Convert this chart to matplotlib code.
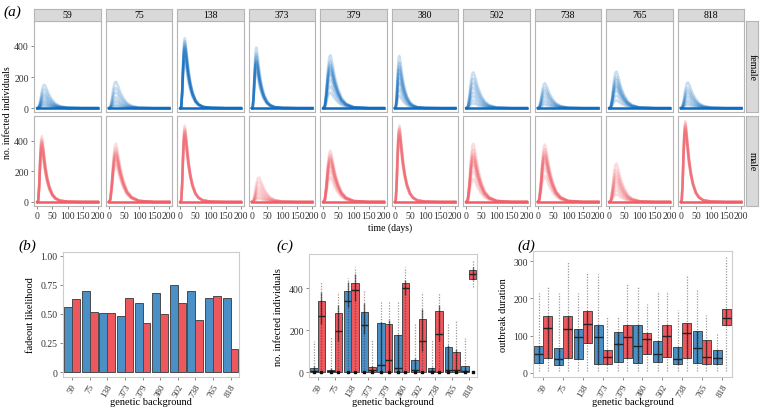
import numpy as np
import matplotlib
matplotlib.use('Agg')
import matplotlib.pyplot as plt

plt.rcParams['font.family'] = ['Liberation Serif', 'DejaVu Serif']
plt.rcParams['font.size'] = 7

W, H = 761, 410

backgrounds = ['59', '75', '138', '373', '379', '380', '502', '738', '765', '818']

# shapes of the epidemic curves (fraction of the peak)
fast_t = [0, 3, 6, 9, 12, 15, 18, 22, 27, 33, 40, 50, 60, 75, 100, 150, 200]
fast_f = [0, 0.02, 0.25, 0.65, 0.93, 1.0, 0.92, 0.75, 0.55, 0.38, 0.24, 0.12, 0.06, 0.02, 0.005, 0, 0]
slow_t = [0, 5, 10, 15, 20, 24, 30, 38, 48, 60, 75, 100, 150, 200]
slow_f = [0, 0.05, 0.35, 0.75, 0.97, 1.0, 0.85, 0.6, 0.38, 0.2, 0.09, 0.02, 0, 0]

# peak sizes of the trajectories in each facet
female_peaks = [
    [150, 120, 95, 80, 65, 50, 40, 30, 20, 12],
    [170, 130, 100, 70, 50, 35, 20, 12],
    [450, 430, 415, 400, 390, 380, 370, 350, 330, 300],
    [390, 350, 330, 310, 300, 290, 280, 260, 230],
    [340, 300, 280, 265, 250, 235, 215, 180, 140, 100],
    [335, 290, 265, 245, 220, 190, 160, 120, 80],
    [230, 190, 160, 130, 100, 75, 50, 30],
    [160, 130, 110, 90, 70, 50, 35, 20],
    [235, 200, 180, 160, 145, 130, 110, 80, 50],
    [165, 130, 110, 90, 70, 50, 35, 20],
]
male_peaks = [
    [430, 410, 400, 390, 380, 370, 355, 340, 320],
    [380, 350, 330, 320, 310, 300, 285, 270, 240],
    [500, 480, 470, 460, 450, 440, 425, 410],
    [160, 130, 100, 80, 60, 45, 30, 20],
    [335, 310, 295, 285, 275, 265, 250, 230, 200, 160],
    [500, 485, 475, 465, 455, 440, 425, 410],
    [380, 340, 315, 300, 290, 275, 260, 240, 200, 150],
    [375, 345, 325, 310, 300, 290, 275, 255, 220, 170],
    [250, 210, 185, 165, 145, 125, 100, 75, 50],
    [530, 515, 505, 495, 485, 475, 465, 450],
]
female_shape = ['s', 's', 'f', 'f', 's', 'f', 's', 's', 's', 's']
male_shape = ['f', 's', 'f', 's', 's', 'f', 's', 's', 's', 'f']

# (b) fadeout likelihood
fade_f = [0.56, 0.70, 0.51, 0.48, 0.59, 0.68, 0.745, 0.695, 0.64, 0.635]
fade_m = [0.63, 0.515, 0.51, 0.64, 0.42, 0.50, 0.595, 0.45, 0.655, 0.20]

# (c) number infected: box stats and point ranges
c_f_q1 = [0, 0, 0, 0, 0, 0, 0, 0, 0, 0]
c_f_med = [5, 5, 340, 225, 35, 20, 10, 8, 10, 8]
c_f_q3 = [22, 12, 385, 287, 235, 178, 60, 20, 120, 28]
c_f_lo = [0, 0, 0, 0, 0, 0, 0, 0, 0, 0]
c_f_hi = [150, 170, 450, 390, 340, 335, 230, 160, 235, 165]
c_f_dlo = [0, 0, 310, 180, 0, 0, 0, 0, 0, 0]
c_f_dhi = [30, 20, 430, 330, 240, 180, 70, 25, 130, 30]
c_m_q1 = [0, 0, 0, 0, 0, 0, 0, 0, 0, 445]
c_m_med = [270, 195, 390, 12, 60, 400, 150, 182, 10, 468]
c_m_q3 = [340, 280, 425, 25, 232, 425, 252, 290, 96, 485]
c_m_lo = [0, 0, 0, 0, 0, 0, 0, 0, 0, 405]
c_m_hi = [430, 380, 500, 160, 335, 500, 380, 375, 250, 530]
c_m_dlo = [230, 150, 340, 0, 0, 370, 100, 150, 0, 440]
c_m_dhi = [380, 320, 470, 30, 250, 440, 300, 320, 110, 500]

# (d) outbreak duration
d_f_q1 = [27, 22, 38, 25, 30, 27, 30, 25, 27, 25]
d_f_med = [50, 38, 95, 95, 77, 73, 50, 37, 67, 40]
d_f_q3 = [72, 67, 117, 128, 110, 128, 85, 70, 112, 60]
d_f_hi = [215, 215, 215, 265, 150, 230, 220, 170, 225, 105]
d_m_q1 = [40, 40, 80, 25, 40, 50, 42, 40, 25, 128]
d_m_med = [120, 117, 130, 42, 95, 90, 100, 108, 42, 148]
d_m_q3 = [152, 152, 165, 62, 128, 107, 128, 133, 88, 172]
d_m_hi = [230, 300, 270, 150, 240, 185, 220, 260, 155, 310]
d_lo = 5

line_blue = '#0e6bbd'
line_red = '#f05c66'
box_blue = '#4a8fc6'
box_red = '#ec585e'
edge = '#4a4a4a'
tick_col = '#333333'
frame = '#b5b5b5'


def px_axes(fig, x0, y0, x1, y1):
    return fig.add_axes([x0 / W, 1 - y1 / H, (x1 - x0) / W, (y1 - y0) / H])


def style(ax, col=frame):
    for s in ax.spines.values():
        s.set_color(col)
        s.set_linewidth(0.8)
    ax.tick_params(length=2.5, width=0.6, color='#777777', labelcolor=tick_col, pad=1.5)


fig = plt.figure(figsize=(W / 100, H / 100), dpi=100)

# ---------- (a) facet grid ----------
rows = [(22, 113, female_peaks, female_shape, line_blue, 'female'),
        (117.3, 206.7, male_peaks, male_shape, line_red, 'male')]
for r, (y0, y1, peaks, shapes, col, lab) in enumerate(rows):
    for i, g in enumerate(backgrounds):
        x0 = 34.3 + i * 71.5
        ax = px_axes(fig, x0, y0, x0 + 66.5, y1)
        style(ax)
        ax.plot([0, 200], [0, 0], color=col, lw=1.8)
        for p in peaks[i]:
            if shapes[i] == 'f':
                t, f = fast_t, fast_f
            else:
                t, f = slow_t, slow_f
            ax.plot(t, np.array(f) * p, color=col, lw=1.8, alpha=0.22)
        ax.set_xlim(-10, 210)
        ax.set_ylim(-25, 560)
        ax.set_yticks([0, 200, 400])
        ax.set_xticks([0, 50, 100, 150, 200])
        if i > 0:
            ax.tick_params(axis='y', left=False, labelleft=False)
        if r == 0:
            ax.tick_params(axis='x', bottom=False, labelbottom=False)
            st = px_axes(fig, x0, 9.7, x0 + 66.5, 21.7)
            st.set_facecolor('#d9d9d9')
            style(st)
            st.set_xticks([])
            st.set_yticks([])
            st.text(0.5, 0.5, g, ha='center', va='center', fontsize=7, transform=st.transAxes)
    rs = px_axes(fig, 745.7, y0, 758.3, y1)
    rs.set_facecolor('#d9d9d9')
    style(rs)
    rs.set_xticks([])
    rs.set_yticks([])
    rs.text(0.5, 0.5, lab, ha='center', va='center', rotation=-90, fontsize=7, transform=rs.transAxes)

fig.text(8 / W, 1 - 113 / H, 'no. infected individuals', rotation=90, ha='center', va='center', fontsize=7)
fig.text(390 / W, 1 - 228 / H, 'time (days)', ha='center', va='center', fontsize=7)
fig.text(3 / W, 1 - 12 / H, '(a)', style='italic', fontsize=11, ha='left', va='center')

x = np.arange(len(backgrounds))
w = 0.45

# ---------- (b) fadeout likelihood ----------
axb = px_axes(fig, 63.3, 252.7, 239.3, 378.3)
style(axb, '#cccccc')
axb.bar(x - w / 2, fade_f, w, color=box_blue, edgecolor=edge, linewidth=0.7)
axb.bar(x + w / 2, fade_m, w, color=box_red, edgecolor=edge, linewidth=0.7)
axb.set_ylim(-0.045, 1.035)
axb.set_yticks([0, 0.25, 0.5, 0.75, 1.0])
axb.set_yticklabels(['0', '0.25', '0.50', '0.75', '1.00'])
axb.set_ylabel('fadeout likelihood', fontsize=7.5, labelpad=4)


def box_panel(ax, q1s, meds, q3s, los, his, dlos, dhis, offset, col, zero_dot):
    stats = []
    for k in range(len(backgrounds)):
        stats.append(dict(med=meds[k], q1=q1s[k], q3=q3s[k], whislo=q1s[k], whishi=q3s[k]))
    pos = x + offset
    ax.bxp(stats, positions=pos, widths=w, patch_artist=True, showfliers=False, showcaps=False,
           boxprops=dict(facecolor=col, edgecolor=edge, linewidth=0.7),
           medianprops=dict(color='#222222', linewidth=1.0),
           whiskerprops=dict(linewidth=0))
    ax.vlines(pos, los, his, color='#222222', lw=0.9, alpha=0.45, linestyles=(0, (1, 1.2)))
    ax.vlines(pos, dlos, dhis, color='#111111', lw=1.0, alpha=0.6)
    if zero_dot:
        ax.scatter(pos, np.zeros(len(pos)), s=4, marker='s', color='#111111', zorder=5)


# ---------- (c) number infected ----------
axc = px_axes(fig, 309.3, 255, 477.3, 378.3)
style(axc, '#cccccc')
box_panel(axc, c_f_q1, c_f_med, c_f_q3, c_f_lo, c_f_hi, c_f_dlo, c_f_dhi, -w / 2, box_blue, True)
box_panel(axc, c_m_q1, c_m_med, c_m_q3, c_m_lo, c_m_hi, c_m_dlo, c_m_dhi, w / 2, box_red, True)
axc.set_ylim(-24, 563)
axc.set_yticks([0, 200, 400])
axc.set_ylabel('no. infected individuals', fontsize=7.5, labelpad=4)

# ---------- (d) outbreak duration ----------
axd = px_axes(fig, 533.3, 251.7, 731.7, 378.3)
style(axd, '#cccccc')
box_panel(axd, d_f_q1, d_f_med, d_f_q3, [d_lo] * 10, d_f_hi, d_f_q1, d_f_q3, -w / 2, box_blue, False)
box_panel(axd, d_m_q1, d_m_med, d_m_q3, [d_lo] * 10, d_m_hi, d_m_q1, d_m_q3, w / 2, box_red, False)
axd.set_ylim(-12, 328)
axd.set_yticks([0, 100, 200, 300])
axd.set_ylabel('outbreak duration', fontsize=7.5, labelpad=4)

for ax, lab, lx in [(axb, '(b)', 18), (axc, '(c)', 276), (axd, '(d)', 517)]:
    ax.set_xlim(-0.5, 9.5)
    ax.set_xticks(x)
    ax.set_xticklabels(backgrounds, rotation=60, ha='center', va='top', fontsize=6.5)
    ax.tick_params(axis='x', pad=1)
    bb = ax.get_position()
    fig.text((bb.x0 + bb.x1) / 2, 1 - 403 / H, 'genetic background', fontsize=7.5,
             ha='center', va='center')
    fig.text(lx / W, 1 - 246 / H, lab, style='italic', fontsize=11, ha='left', va='center')

fig.savefig('out.png', dpi=100)
